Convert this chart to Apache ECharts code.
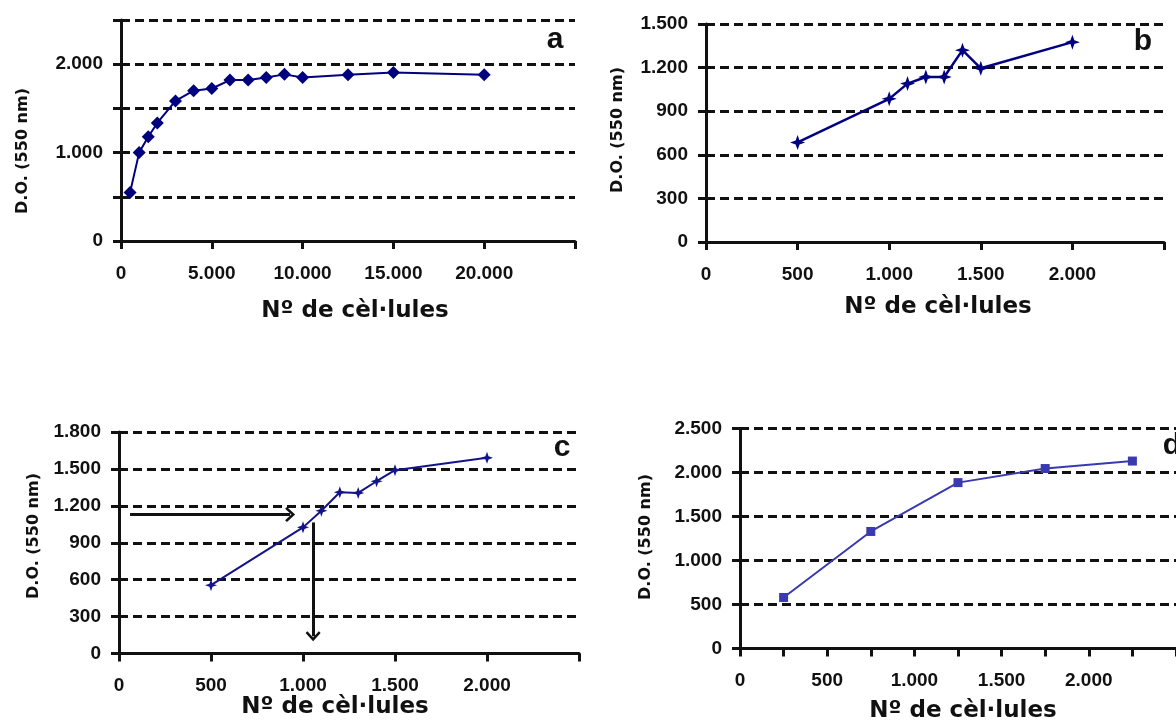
<!DOCTYPE html>
<html>
<head>
<meta charset="utf-8">
<script src="https://cdn.jsdelivr.net/npm/echarts@6/dist/echarts.min.js"></script>
<style>
  html, body { margin: 0; padding: 0; background: #fff; }
  #chart { width: 1176px; height: 722px; }
</style>
</head>
<body>
<div id="chart"></div>
<script>
// Panel a: optical density against number of cells, wide range
const cellsA = [500, 1000, 1500, 2000, 3000, 4000, 5000, 6000, 7000, 8000, 9000, 10000, 12500, 15000, 20000];
const odA    = [550, 1000, 1180, 1335, 1585, 1700, 1725, 1820, 1820, 1850, 1885, 1850, 1880, 1905, 1880];
// Panel b
const cellsB = [500, 1000, 1100, 1200, 1300, 1400, 1500, 2000];
const odB    = [685, 985, 1090, 1135, 1135, 1320, 1195, 1375];
// Panel c (with reading guide)
const cellsC = [500, 1000, 1100, 1200, 1300, 1400, 1500, 2000];
const odC    = [555, 1025, 1160, 1310, 1305, 1400, 1490, 1590];
// Panel d
const cellsD = [250, 750, 1250, 1750, 2250];
const odD    = [580, 1330, 1885, 2045, 2130];

// Axis tick labels
const xLabelsA = [0, 5000, 10000, 15000, 20000];
const yLabelsA = [0, 1000, 2000];
const xLabelsBC = [0, 500, 1000, 1500, 2000];
const xLabelsD = [0, 500, 1000, 1500, 2000];
const xTicksD = [0, 250, 500, 750, 1000, 1250, 1500, 1750, 2000, 2250, 2500];

const panelLetters = ['a', 'b', 'c', 'd'];
const xTitle = 'Nº de cèl·lules';
const yTitle = 'D.O. (550 nm)';

// Reading guide on panel c: an OD reading traced to the curve, then down to the cell count
const guideOD = 1130;
const guideCellsFrom = [60, 930];
const guideCells = 1055;
const guideODFrom = [1065, 140];

const SANS = '"Liberation Sans", Arial, sans-serif';
const WIDE = '"DejaVu Sans", "Liberation Sans", Arial, sans-serif';
const INK = '#111';
const fmt = v => String(v).replace(/\B(?=(\d{3})+(?!\d))/g, '.');

const grids = [
  { left: 121, top: 20,  width: 454, height: 221 },   // a
  { left: 706, top: 24,  width: 458, height: 218 },   // b
  { left: 119, top: 432, width: 460, height: 221.5 }, // c
  { left: 740, top: 428.5, width: 450, height: 220 }  // d
];

const labelStyle = { color: INK, fontFamily: SANS, fontWeight: 'bold', fontSize: 19 };

function xAxis(gi, max, interval, labels, ticks) {
  return {
    type: 'value', gridIndex: gi, min: 0, max: max, interval: interval,
    axisLine: { show: true, onZero: false, lineStyle: { color: INK, width: 3 } },
    axisTick: Object.assign({ show: true, inside: false, length: 8, lineStyle: { color: INK, width: 3 } },
                            ticks ? { customValues: ticks } : {}),
    axisLabel: Object.assign({ show: true, customValues: labels, margin: 23, formatter: fmt }, labelStyle),
    splitLine: { show: false }
  };
}
function yAxis(gi, max, interval, labels) {
  return {
    type: 'value', gridIndex: gi, min: 0, max: max, interval: interval,
    axisLine: { show: true, onZero: false, lineStyle: { color: INK, width: 3 } },
    axisTick: { show: true, inside: false, length: 8, lineStyle: { color: INK, width: 3 } },
    axisLabel: Object.assign({ show: true, margin: 18, formatter: fmt }, labelStyle,
                             labels ? { customValues: labels } : {}),
    splitLine: { show: true, lineStyle: { color: INK, width: 3, type: [9, 5] } }
  };
}

const STAR = 'path://M50,0 L63,37 L100,50 L63,63 L50,100 L37,63 L0,50 L37,37 Z';
const CHEVRON = 'path://M0,44 L50,0 L100,44 L88,54 L50,20 L12,54 Z';

const zip = (xs, ys) => xs.map((x, i) => [x, ys[i]]);

function lineSeries(gi, xs, ys, color, width, symbol, size) {
  return {
    type: 'line', xAxisIndex: gi, yAxisIndex: gi,
    data: zip(xs, ys),
    symbol: symbol, symbolSize: size, showSymbol: true,
    lineStyle: { color: color, width: width },
    itemStyle: { color: color },
    animation: false, silent: true, z: 5
  };
}

const seriesC = lineSeries(2, cellsC, odC, '#14148a', 2, STAR, 12);
seriesC.markLine = {
  silent: true, animation: false,
  symbol: ['none', CHEVRON], symbolSize: [15, 10],
  label: { show: false },
  lineStyle: { color: INK, width: 3, type: 'solid' },
  data: [
    [{ coord: [guideCellsFrom[0], guideOD] }, { coord: [guideCellsFrom[1], guideOD] }],
    [{ coord: [guideCells, guideODFrom[0]] }, { coord: [guideCells, guideODFrom[1]] }]
  ]
};

const titleFont = 'bold 23px ' + WIDE;
const yTitleFont = 'bold 16px ' + WIDE;
const letterFont = 'bold 30px ' + SANS;
const txt = (x, y, text, font, rot) => ({
  type: 'text', x: x, y: y, rotation: rot || 0, silent: true,
  style: { text: text, font: font, fill: INK, align: 'center', verticalAlign: 'middle' }
});

const option = {
  backgroundColor: '#fff',
  animation: false,
  grid: grids,
  xAxis: [
    xAxis(0, 25000, 5000, xLabelsA),
    xAxis(1, 2500, 500, xLabelsBC),
    xAxis(2, 2500, 500, xLabelsBC),
    xAxis(3, 2500, 250, xLabelsD, xTicksD)
  ],
  yAxis: [
    yAxis(0, 2500, 500, yLabelsA),
    yAxis(1, 1500, 300),
    yAxis(2, 1800, 300),
    yAxis(3, 2500, 500)
  ],
  series: [
    lineSeries(0, cellsA, odA, '#00007f', 2, 'diamond', 13),
    lineSeries(1, cellsB, odB, '#000080', 2.5, STAR, 15),
    seriesC,
    lineSeries(3, cellsD, odD, '#3a3ab0', 2, 'rect', 9)
  ],
  graphic: [
    txt(355, 311, xTitle, titleFont),
    txt(938, 307, xTitle, titleFont),
    txt(335, 707, xTitle, titleFont),
    txt(963, 711, xTitle, titleFont),
    txt(23, 151, yTitle, yTitleFont, Math.PI / 2),
    txt(618, 130, yTitle, yTitleFont, Math.PI / 2),
    txt(34, 536, yTitle, yTitleFont, Math.PI / 2),
    txt(646, 537, yTitle, yTitleFont, Math.PI / 2),
    txt(555, 40, panelLetters[0], letterFont),
    txt(1143, 42, panelLetters[1], letterFont),
    txt(562, 448, panelLetters[2], letterFont),
    txt(1172, 446, panelLetters[3], letterFont)
  ]
};

const chart = echarts.init(document.getElementById('chart'), null, { renderer: 'canvas' });
chart.setOption(option);
</script>
</body>
</html>
